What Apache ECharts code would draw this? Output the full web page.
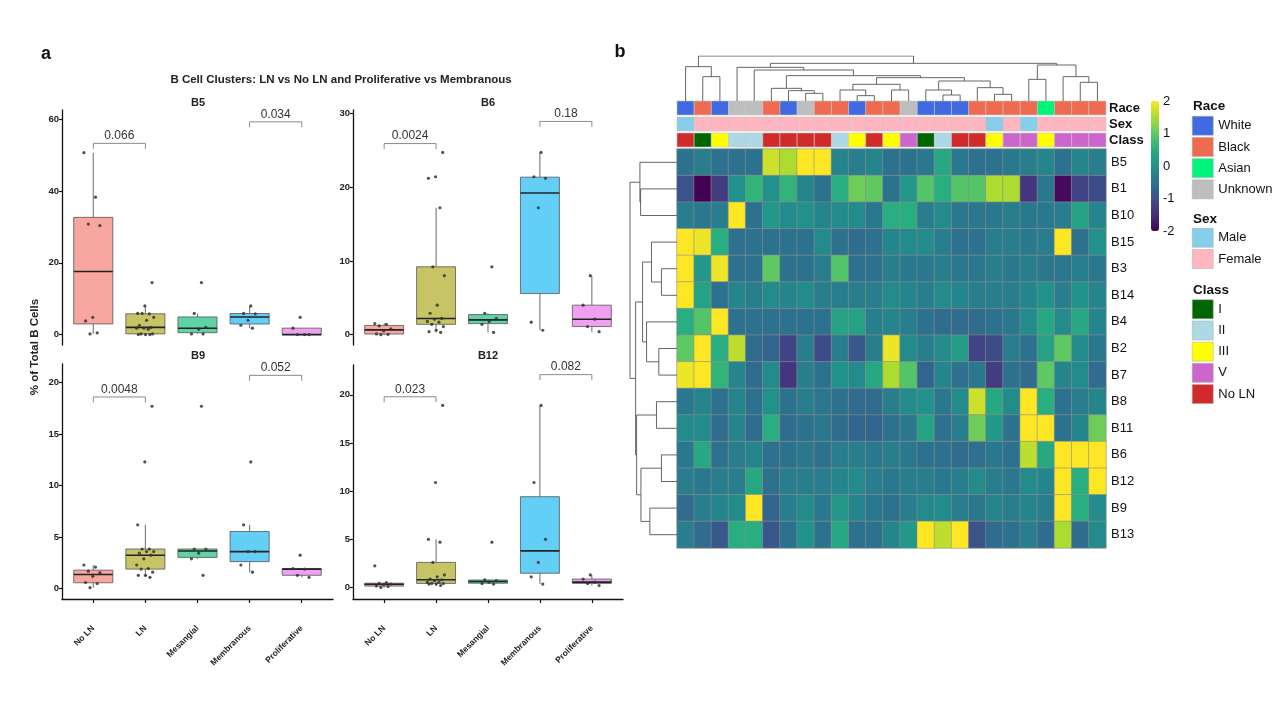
<!DOCTYPE html>
<html><head><meta charset="utf-8">
<script src="https://cdn.jsdelivr.net/npm/echarts@6/dist/echarts.min.js"></script>
<style>html,body{margin:0;padding:0;background:#fff}#c{width:1280px;height:720px}</style>
</head><body><div id="c"></div>
<script>
// ---------------- Panel a data ----------------
const CATEGORIES = ['No LN', 'LN', 'Mesangial', 'Membranous', 'Proliferative'];
const PANELS = ['B5', 'B6', 'B9', 'B12'];

const B5_NoLN = [50.7, 38.3, 30.8, 30.4, 4.8, 3.8, 0.5, 0.2];
const B5_LN = [14.5, 8.0, 5.9, 5.8, 5.9, 4.8, 4.0, 2.6, 2.0, 1.8, 1.8, 1.5, 0.2, 0.2, 0.0, 0.0, 0.0];
const B5_Mesangial = [14.5, 5.9, 2.0, 1.5, 0.2, 0.2];
const B5_Membranous = [8.0, 5.9, 5.8, 4.0, 2.6, 1.8];
const B5_Proliferative = [4.8, 1.8, 0.0, 0.0, 0.0];

const B6_NoLN = [1.5, 1.4, 1.2, 0.8, 0.5, 0.1, 0.05, 0.0];
const B6_LN = [24.7, 21.4, 21.2, 17.2, 9.2, 8.0, 4.0, 2.9, 2.2, 2.1, 1.8, 1.7, 1.4, 1.1, 0.6, 0.4, 0.3];
const B6_Mesangial = [9.2, 2.9, 2.2, 1.8, 1.4, 0.3];
const B6_Membranous = [24.7, 21.4, 21.2, 17.2, 1.7, 0.6];
const B6_Proliferative = [8.0, 4.0, 2.1, 1.1, 0.4];

const B9_NoLN = [2.3, 2.1, 1.7, 1.55, 1.2, 0.6, 0.5, 0.1];
const B9_LN = [17.7, 12.3, 6.2, 3.85, 3.85, 3.6, 3.6, 3.45, 3.25, 2.9, 2.3, 1.95, 1.9, 1.6, 1.3, 1.3, 1.1];
const B9_Mesangial = [17.7, 3.85, 3.85, 3.45, 2.9, 1.3];
const B9_Membranous = [12.3, 6.2, 3.6, 3.6, 2.3, 1.6];
const B9_Proliferative = [3.25, 1.95, 1.9, 1.3, 1.1];

const B12_NoLN = [2.25, 0.5, 0.42, 0.35, 0.3, 0.15, 0.1, 0.0];
const B12_LN = [18.9, 10.9, 5.0, 4.7, 2.6, 1.3, 1.1, 0.87, 0.8, 0.7, 0.55, 0.55, 0.42, 0.4, 0.35, 0.35, 0.2];
const B12_Mesangial = [4.7, 0.8, 0.7, 0.55, 0.4, 0.35];
const B12_Membranous = [18.9, 10.9, 5.0, 2.6, 1.1, 0.35];
const B12_Proliferative = [1.3, 0.87, 0.55, 0.42, 0.2];

const PANEL_GROUPS = {
  B5: [B5_NoLN, B5_LN, B5_Mesangial, B5_Membranous, B5_Proliferative],
  B6: [B6_NoLN, B6_LN, B6_Mesangial, B6_Membranous, B6_Proliferative],
  B9: [B9_NoLN, B9_LN, B9_Mesangial, B9_Membranous, B9_Proliferative],
  B12: [B12_NoLN, B12_LN, B12_Mesangial, B12_Membranous, B12_Proliferative]
};
const Y_TICKS = { B5: [0, 20, 40, 60], B6: [0, 10, 20, 30], B9: [0, 5, 10, 15, 20], B12: [0, 5, 10, 15, 20] };
const Y_RANGE = { B5: [-2.9, 62.6], B6: [-1.4, 30.45], B9: [-1.0, 21.8], B12: [-1.2, 23.1] };
const BRACKET_PAIRS = [[0, 1], [3, 4]];
const P_VALUES = { B5: ['0.066', '0.034'], B6: ['0.0024', '0.18'], B9: ['0.0048', '0.052'], B12: ['0.023', '0.082'] };
const BRACKET_Y = { B5: [53.3, 59.3], B6: [25.9, 28.9], B9: [18.6, 20.7], B12: [19.8, 22.1] };

// ---------------- Panel b data ----------------
const HEAT_ROWS = ['B5', 'B1', 'B10', 'B15', 'B3', 'B14', 'B4', 'B2', 'B7', 'B8', 'B11', 'B6', 'B12', 'B9', 'B13'];
const HEAT_B5  = [-0.5,-0.3,-0.5,-0.5,-0.5, 1.7,1.5,2.0,2.0,-0.2,-0.3,-0.2,-0.5,-0.5,-0.4,0.4,-0.4,-0.5,-0.5,-0.4,-0.3,-0.2,-0.5,-0.2,-0.3];
const HEAT_B1  = [-1.0,-2.0,-1.3,0.0,0.6, 0.0,0.6,-0.2,-0.5,0.5,1.1,1.0,-0.5,0.1,0.9,0.5,0.9,0.9,1.5,1.5,-1.4,-0.4,-1.9,-1.2,-1.1];
const HEAT_B10 = [-0.3,-0.4,-0.3,2.0,-0.5, 0.1,-0.1,0.0,-0.2,-0.1,-0.1,-0.4,0.5,0.5,-0.3,-0.1,-0.4,-0.4,-0.4,-0.3,-0.4,-0.4,-0.3,0.3,-0.2];
const HEAT_B15 = [2.0,1.9,0.5,-0.5,-0.5, -0.5,-0.5,-0.5,-0.1,-0.5,-0.6,-0.5,-0.2,-0.1,-0.1,-0.3,-0.5,-0.5,-0.3,-0.3,-0.4,-0.3,2.0,-0.5,0.0];
const HEAT_B3  = [2.0,0.1,1.9,-0.5,-0.5, 1.0,-0.5,-0.5,-0.3,0.9,-0.5,-0.5,-0.3,-0.4,-0.4,-0.3,-0.4,-0.4,-0.3,-0.4,-0.3,-0.4,-0.4,-0.3,-0.4];
const HEAT_B14 = [2.0,0.3,-0.5,-0.2,-0.3, -0.1,-0.2,-0.1,-0.3,-0.3,-0.3,-0.3,-0.1,-0.2,-0.3,-0.1,-0.2,-0.3,-0.3,-0.3,-0.2,0.0,-0.3,0.0,-0.2];
const HEAT_B4  = [0.5,0.9,2.0,-0.5,-0.5, -0.5,-0.5,-0.5,-0.5,0.3,0.3,-0.3,-0.2,-0.3,-0.5,-0.6,-0.6,-0.6,-0.5,-0.4,-0.1,0.4,-0.1,0.4,-0.2];
const HEAT_B2  = [1.0,2.0,0.5,1.6,-0.6, -0.7,-1.2,-0.3,-1.1,-0.3,-0.9,-0.3,1.9,-0.1,-0.3,-0.1,0.2,-1.2,-1.1,-0.3,-0.5,0.3,1.0,-0.1,-0.4];
const HEAT_B7  = [1.9,2.0,0.6,-0.2,-0.6, -0.1,-1.4,-0.3,-0.5,0.0,-0.1,0.4,1.5,0.9,-0.7,-0.2,-0.5,-0.4,-1.3,-0.5,-0.6,1.0,-0.2,-0.1,-0.6];
const HEAT_B8  = [-0.4,-0.2,-0.5,-0.2,-0.5, 0.0,-0.5,-0.3,-0.4,-0.5,-0.6,-0.6,-0.3,-0.1,0.0,-0.4,-0.1,1.7,0.4,-0.1,2.0,0.5,-0.5,-0.3,-0.2];
const HEAT_B11 = [-0.1,-0.1,-0.6,-0.2,-0.6, 0.5,-0.6,-0.5,-0.4,-0.6,-0.7,-0.7,-0.5,-0.4,0.3,-0.5,-0.3,1.1,0.1,-0.5,2.0,2.0,-0.5,-0.2,1.1];
const HEAT_B6  = [-0.4,0.4,-0.5,-0.3,-0.2, -0.5,-0.5,-0.4,-0.5,-0.3,-0.3,-0.4,-0.3,-0.4,-0.5,-0.5,-0.6,-0.5,-0.4,-0.5,1.6,0.4,2.0,2.0,2.0];
const HEAT_B12 = [-0.3,-0.4,-0.3,-0.3,0.4, -0.5,-0.3,-0.3,-0.3,-0.2,-0.1,-0.3,-0.4,-0.3,-0.3,-0.4,-0.3,-0.1,-0.3,-0.4,-0.1,-0.2,2.0,0.5,2.0];
const HEAT_B9  = [-0.6,-0.3,-0.2,-0.1,2.0, -0.7,-0.3,-0.1,-0.4,0.1,-0.2,-0.4,-0.5,-0.3,-0.1,-0.1,-0.3,-0.4,-0.2,-0.3,-0.2,-0.3,2.0,0.5,-0.1];
const HEAT_B13 = [-0.3,-0.6,-0.9,0.5,0.5, -0.9,-0.5,0.0,-0.5,0.4,-0.5,-0.5,-0.2,0.1,2.0,1.6,2.0,-1.0,-0.6,-0.5,-0.3,-0.6,1.5,-0.6,-0.1];
const HEAT_MATRIX = [HEAT_B5, HEAT_B1, HEAT_B10, HEAT_B15, HEAT_B3, HEAT_B14, HEAT_B4, HEAT_B2, HEAT_B7, HEAT_B8, HEAT_B11, HEAT_B6, HEAT_B12, HEAT_B9, HEAT_B13];

const RACE_LEVELS = ['White', 'Black', 'Asian', 'Unknown'];
const SEX_LEVELS = ['Male', 'Female'];
const CLASS_LEVELS = ['I', 'II', 'III', 'V', 'No LN'];
const RACE_COLS = ['White','Black','White','Unknown','Unknown','Black','White','Unknown','Black','Black','White','Black','Black','Unknown','White','White','White','Black','Black','Black','Black','Asian','Black','Black','Black'];
const SEX_COLS = ['Male','Female','Female','Female','Female','Female','Female','Female','Female','Female','Female','Female','Female','Female','Female','Female','Female','Female','Male','Female','Male','Female','Female','Female','Female'];
const CLASS_COLS = ['No LN','I','III','II','II','No LN','No LN','No LN','No LN','II','III','No LN','III','V','I','II','No LN','No LN','III','V','V','III','V','V','V'];

// dendrogram merges: [childA, childB, height]; leaves are 0..n-1, merge k gets id n+k
const COL_LINKAGE = [[1,2,73],[0,25,103],[7,8,23],[6,27,31],[5,28,38],[10,11,16],[9,30,33],[12,13,33],[31,32,50],[15,16,18],[14,34,33],[18,19,20],[17,36,40],[35,37,60],[33,38,70],[29,39,76],[4,40,93],[3,41,101],[20,21,65],[23,24,56],[22,44,73],[43,45,108],[42,46,113],[26,47,135]];
const ROW_LINKAGE = [[1,2,110],[0,15,112],[4,5,47],[3,17,77],[7,8,55],[6,19,92],[18,20,104],[9,10,62],[11,12,47],[13,14,82],[23,24,109],[22,25,122],[21,26,125],[16,27,142]];

// ---------------- styles ----------------
const FONT = 'Liberation Sans, Arial, sans-serif';
const BOX_COLORS = ['#F8A7A0', '#C6C465', '#5FD3A5', '#63CEF6', '#EEA1F1'];
const RACE_COLORS = ['#4169E1', '#EE6A50', '#00F57A', '#BEBEBE'];
const SEX_COLORS = ['#87CEEB', '#FFB6C1'];
const CLASS_COLORS = ['#006400', '#ADD8E6', '#FFFF00', '#CC66CC', '#D02A2A'];
const VIRIDIS = ['#440154','#472d7b','#3b528b','#2c728e','#21918c','#28ae80','#5ec962','#addc30','#fde725'];

const GRIDS = [
  { left: 62, top: 110, width: 271, height: 235 },
  { left: 353, top: 110, width: 270, height: 235 },
  { left: 62, top: 364, width: 271, height: 235 },
  { left: 353, top: 365, width: 270, height: 234 }
];

function quantile(s, p) { const pos = (s.length - 1) * p; const lo = Math.floor(pos), hi = Math.ceil(pos); return s[lo] + (s[hi] - s[lo]) * (pos - lo); }
function boxStats(arr) {
  const s = arr.slice().sort((a, b) => a - b);
  const q1 = quantile(s, 0.25), med = quantile(s, 0.5), q3 = quantile(s, 0.75), iqr = q3 - q1;
  const lw = Math.min(...s.filter(v => v >= q1 - 1.5 * iqr));
  const uw = Math.max(...s.filter(v => v <= q3 + 1.5 * iqr));
  return [lw, q1, med, q3, uw];
}
const jit = (i) => (((i * 0.6180339) % 1) - 0.5) * 0.36;

const grid = [], xAxis = [], yAxis = [], series = [];
PANELS.forEach((name, p) => {
  grid.push(Object.assign({ containLabel: false }, GRIDS[p]));
  const bottom = p >= 2;
  xAxis.push({
    type: 'value', gridIndex: p, min: -0.6, max: 4.6, show: bottom,
    splitLine: { show: false },
    axisLine: { show: bottom, onZero: false, lineStyle: { color: '#111', width: 1.3 } },
    axisTick: { show: bottom, customValues: [0, 1, 2, 3, 4], length: 4, lineStyle: { color: '#111', width: 1.2 } },
    axisLabel: { show: bottom, customValues: [0, 1, 2, 3, 4], formatter: v => CATEGORIES[v], rotate: 45, margin: 28,
      fontSize: 8.5, fontWeight: 'bold', color: '#222', fontFamily: FONT }
  });
  yAxis.push({
    type: 'value', gridIndex: p, min: Y_RANGE[name][0], max: Y_RANGE[name][1],
    splitLine: { show: false },
    axisLine: { show: true, onZero: false, lineStyle: { color: '#111', width: 1.3 } },
    axisTick: { show: true, customValues: Y_TICKS[name], length: 3, lineStyle: { color: '#111', width: 1.2 } },
    axisLabel: { customValues: Y_TICKS[name], fontSize: 9.5, fontWeight: 'bold', color: '#222', margin: 3, fontFamily: FONT }
  });
  const groups = PANEL_GROUPS[name];
  series.push({
    type: 'custom', xAxisIndex: p, yAxisIndex: p, silent: true,
    data: groups.map((g, i) => [i].concat(boxStats(g))),
    encode: { x: 0, y: [1, 2, 3, 4, 5] },
    renderItem: (params, api) => {
      const x = api.value(0), half = 0.375;
      const cx = api.coord([x, 0])[0];
      const xl = api.coord([x - half, 0])[0], xr = api.coord([x + half, 0])[0];
      const yl = api.coord([x, api.value(1)])[1], y1 = api.coord([x, api.value(2)])[1];
      const ym = api.coord([x, api.value(3)])[1], y3 = api.coord([x, api.value(4)])[1];
      const yu = api.coord([x, api.value(5)])[1];
      return { type: 'group', children: [
        { type: 'line', shape: { x1: cx, y1: yl, x2: cx, y2: y1 }, style: { stroke: '#777', lineWidth: 1.1 } },
        { type: 'line', shape: { x1: cx, y1: y3, x2: cx, y2: yu }, style: { stroke: '#777', lineWidth: 1.1 } },
        { type: 'rect', shape: { x: xl, y: y3, width: xr - xl, height: Math.max(y1 - y3, 0.5) }, style: { fill: BOX_COLORS[x], stroke: '#555', lineWidth: 0.8 } },
        { type: 'line', shape: { x1: xl, y1: ym, x2: xr, y2: ym }, style: { stroke: '#222', lineWidth: 1.6 } }
      ] };
    }
  });
  series.push({
    type: 'scatter', xAxisIndex: p, yAxisIndex: p, silent: true, symbolSize: 3.2,
    itemStyle: { color: '#333', opacity: 0.85 },
    data: groups.flatMap((g, gi) => g.map((v, i) => [gi + jit(i + gi * 3), v])),
    z: 5
  });
  series.push({
    type: 'custom', xAxisIndex: p, yAxisIndex: p, silent: true, z: 6,
    data: BRACKET_PAIRS.map((pr, i) => [pr[0], pr[1], BRACKET_Y[name][i]]),
    encode: { x: [0, 1], y: 2 },
    renderItem: (params, api) => {
      const y = api.value(2);
      const pa = api.coord([api.value(0), y]), pb = api.coord([api.value(1), y]);
      return { type: 'group', children: [
        { type: 'polyline', shape: { points: [[pa[0], pa[1] + 5.5], pa, pb, [pb[0], pb[1] + 5.5]] }, style: { stroke: '#8a8a8a', lineWidth: 1, fill: null } },
        { type: 'text', style: { text: P_VALUES[name][params.dataIndex], x: (pa[0] + pb[0]) / 2, y: pa[1] - 1.5,
          textAlign: 'center', textVerticalAlign: 'bottom', fontSize: 12, fill: '#333', fontFamily: FONT } }
      ] };
    }
  });
});

// ---- heatmap (grid 4)
grid.push({ left: 677, top: 149, width: 429, height: 399 });
xAxis.push({ type: 'category', gridIndex: 4, data: RACE_COLS.map((_, i) => String(i + 1)), show: false });
yAxis.push({ type: 'category', gridIndex: 4, data: HEAT_ROWS, inverse: true, position: 'right',
  axisLine: { show: false }, axisTick: { show: false },
  axisLabel: { interval: 0, fontSize: 13, color: '#111', margin: 5, fontFamily: FONT } });
const heatIndex = series.length;
series.push({
  type: 'heatmap', xAxisIndex: 4, yAxisIndex: 4, silent: true,
  data: HEAT_MATRIX.flatMap((row, r) => row.map((v, c) => [c, r, v])),
  itemStyle: { borderColor: '#8f8f8f', borderWidth: 0.6 },
  emphasis: { disabled: true }
});

// ---- annotation bars (grid 5)
grid.push({ left: 677, top: 100, width: 429, height: 48 });
xAxis.push({ type: 'category', gridIndex: 5, data: RACE_COLS.map((_, i) => String(i + 1)), show: false });
yAxis.push({ type: 'category', gridIndex: 5, data: ['Race', 'Sex', 'Class'], inverse: true, position: 'right',
  axisLine: { show: false }, axisTick: { show: false },
  axisLabel: { interval: 0, fontSize: 13, fontWeight: 'bold', color: '#111', margin: 3, fontFamily: FONT } });
const ANNO_PALETTES = [RACE_COLORS, SEX_COLORS, CLASS_COLORS];
const annoData = [].concat(
  RACE_COLS.map((v, c) => [c, 0, RACE_LEVELS.indexOf(v)]),
  SEX_COLS.map((v, c) => [c, 1, SEX_LEVELS.indexOf(v)]),
  CLASS_COLS.map((v, c) => [c, 2, CLASS_LEVELS.indexOf(v)])
);
series.push({
  type: 'custom', xAxisIndex: 5, yAxisIndex: 5, silent: true, data: annoData, encode: { x: 0, y: 1 },
  renderItem: (params, api) => {
    const c = api.value(0), r = api.value(1), k = api.value(2);
    const pt = api.coord([c, r]), s = api.size([1, 1]);
    return { type: 'rect', shape: { x: pt[0] - s[0] / 2, y: pt[1] - s[1] / 2 + 1, width: s[0], height: s[1] - 2 },
      style: { fill: ANNO_PALETTES[r][k], stroke: '#c4c4c4', lineWidth: 0.6 } };
  }
});

// ---- dendrograms
function dendro(n, linkage, orient) {
  const pos = [], ht = [], out = [];
  for (let i = 0; i < n; i++) { pos.push(i); ht.push(0); }
  linkage.forEach(([a, b, h]) => {
    const pts = [[pos[a], ht[a]], [pos[a], h], [pos[b], h], [pos[b], ht[b]]];
    out.push({ coords: orient === 'top' ? pts : pts.map(q => [q[1], q[0]]) });
    pos.push((pos[a] + pos[b]) / 2); ht.push(h);
  });
  return out;
}
grid.push({ left: 677, top: 56, width: 429, height: 45 });
xAxis.push({ type: 'value', gridIndex: 6, min: -0.5, max: 24.5, show: false });
yAxis.push({ type: 'value', gridIndex: 6, min: 0, max: 135, show: false });
series.push({ type: 'lines', coordinateSystem: 'cartesian2d', xAxisIndex: 6, yAxisIndex: 6, polyline: true, silent: true,
  data: dendro(25, COL_LINKAGE, 'top'), lineStyle: { color: '#555', width: 0.9, opacity: 1 } });
grid.push({ left: 630, top: 149, width: 47, height: 399 });
xAxis.push({ type: 'value', gridIndex: 7, min: 0, max: 142, inverse: true, show: false });
yAxis.push({ type: 'value', gridIndex: 7, min: -0.5, max: 14.5, inverse: true, show: false });
series.push({ type: 'lines', coordinateSystem: 'cartesian2d', xAxisIndex: 7, yAxisIndex: 7, polyline: true, silent: true,
  data: dendro(15, ROW_LINKAGE, 'left'), lineStyle: { color: '#555', width: 0.9, opacity: 1 } });

// ---- colorbar axis (grid 8)
grid.push({ left: 1151, top: 101, width: 8, height: 130 });
xAxis.push({ type: 'value', gridIndex: 8, show: false });
yAxis.push({ type: 'value', gridIndex: 8, min: -2, max: 2, interval: 1, position: 'right',
  axisLine: { show: false }, axisTick: { show: false }, splitLine: { show: false },
  axisLabel: { fontSize: 13, color: '#111', margin: 4, fontFamily: FONT } });

// ---- legend dummy series
const legendItems = [[RACE_LEVELS, RACE_COLORS], [SEX_LEVELS, SEX_COLORS], [CLASS_LEVELS, CLASS_COLORS]];
legendItems.forEach(([names, cols]) => names.forEach((n, i) => series.push({
  type: 'scatter', name: n, xAxisIndex: 4, yAxisIndex: 4, data: [], itemStyle: { color: cols[i], opacity: 1 }
})));
const LEGEND_TOPS = [116, 228, 299.5];
const legend = legendItems.map(([names, cols], i) => ({
  data: names.map((n, j) => ({ name: n, itemStyle: { color: cols[j], opacity: 1 } })),
  left: 1192, top: LEGEND_TOPS[i], orient: 'vertical', icon: 'rect',
  itemWidth: 21, itemHeight: 19, itemGap: 1.7, padding: 0, selectedMode: false,
  itemStyle: { borderColor: '#aaa', borderWidth: 0.5, opacity: 1 },
  textStyle: { fontSize: 13, color: '#111', fontFamily: FONT, padding: [0, 0, 0, 0] }
}));

const txt = (text, x, y, o) => ({ type: 'text', x, y, silent: true,
  style: Object.assign({ text, fontFamily: FONT, fill: '#111', textAlign: 'center', textVerticalAlign: 'middle' }, o || {}) });

const option = {
  animation: false,
  textStyle: { fontFamily: FONT },
  grid, xAxis, yAxis, series, legend,
  visualMap: {
    type: 'continuous', min: -2, max: 2, seriesIndex: heatIndex, calculable: false, padding: 0,
    left: 1151, top: 101, itemWidth: 8, itemHeight: 130, inRange: { color: VIRIDIS }
  },
  graphic: [
    txt('a', 46, 54, { fontSize: 18, fontWeight: 'bold' }),
    txt('b', 620, 52, { fontSize: 18, fontWeight: 'bold' }),
    txt('B Cell Clusters: LN vs No LN and Proliferative vs Membranous', 341, 80, { fontSize: 11.5, fontWeight: 'bold', fill: '#222' }),
    txt('B5', 198, 103, { fontSize: 11, fontWeight: 'bold', fill: '#222' }),
    txt('B6', 488, 103, { fontSize: 11, fontWeight: 'bold', fill: '#222' }),
    txt('B9', 198, 356, { fontSize: 11, fontWeight: 'bold', fill: '#222' }),
    txt('B12', 488, 356, { fontSize: 11, fontWeight: 'bold', fill: '#222' }),
    Object.assign(txt('% of Total B Cells', 35, 347, { fontSize: 11.5, fontWeight: 'bold', fill: '#222' }), { rotation: Math.PI / 2 }),
    txt('Race', 1193, 106, { fontSize: 13.5, fontWeight: 'bold', textAlign: 'left' }),
    txt('Sex', 1193, 219, { fontSize: 13.5, fontWeight: 'bold', textAlign: 'left' }),
    txt('Class', 1193, 290, { fontSize: 13.5, fontWeight: 'bold', textAlign: 'left' })
  ]
};
const chart = echarts.init(document.getElementById('c'));
chart.setOption(option);
</script></body></html>
